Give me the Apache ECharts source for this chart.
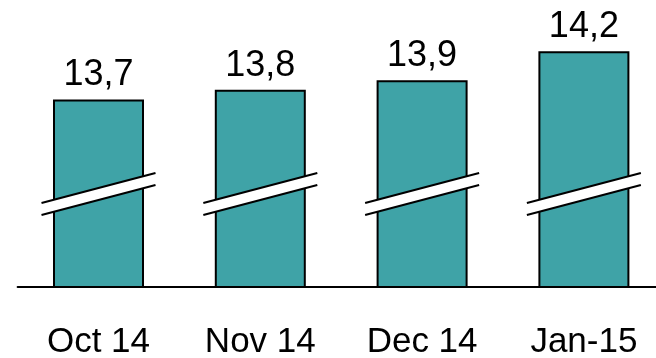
<!DOCTYPE html>
<html>
<head>
<meta charset="utf-8">
<style>
  html, body { margin: 0; padding: 0; background: #fff; }
  #chart { width: 656px; height: 358px; }
</style>
<script src="https://cdn.jsdelivr.net/npm/echarts@6/dist/echarts.min.js"></script>
</head>
<body>
<div id="chart"></div>
<script>
// Monthly values (truncated axis, shown with break marks)
const categories = ['Oct 14', 'Nov 14', 'Dec 14', 'Jan-15'];
const values = [13.7, 13.8, 13.9, 14.2];
// Value at which the break symbol is drawn across each bar
const breakValue = 12.72;

const FONT = "'Liberation Sans', Arial, sans-serif";
const fmt = v => String(v).replace('.', ',');

const chart = echarts.init(document.getElementById('chart'), null, { renderer: 'canvas' });

// Diagonal white band with two black edges, centred on the bar at breakValue
function renderBreak(params, api) {
  const c = api.coord([api.value(0), api.value(1)]);
  const cx = c[0], cy = c[1];
  const hw = 57, rise = 15, half = 6;
  return {
    type: 'group',
    children: [
      {
        type: 'polygon',
        shape: { points: [
          [cx - hw, cy + rise - half], [cx + hw, cy - rise - half],
          [cx + hw, cy - rise + half], [cx - hw, cy + rise + half]
        ] },
        style: { fill: '#ffffff' }
      },
      {
        type: 'line',
        shape: { x1: cx - hw, y1: cy + rise - half, x2: cx + hw, y2: cy - rise - half },
        style: { stroke: '#000', lineWidth: 2 }
      },
      {
        type: 'line',
        shape: { x1: cx - hw, y1: cy + rise + half, x2: cx + hw, y2: cy - rise + half },
        style: { stroke: '#000', lineWidth: 2 }
      }
    ]
  };
}

chart.setOption({
  animation: false,
  backgroundColor: '#ffffff',
  grid: { left: 17.6, width: 647.2, top: 30, height: 257, outerBoundsMode: 'none', containLabel: false },
  xAxis: {
    type: 'category',
    data: categories,
    axisLine: { show: true, lineStyle: { color: '#000', width: 2 } },
    axisTick: { show: false },
    axisLabel: { color: '#000', fontSize: 35, fontFamily: FONT, margin: 38 }
  },
  yAxis: {
    type: 'value',
    min: 11.755,
    max: 14.421,
    show: false,
    splitLine: { show: false }
  },
  series: [
    {
      type: 'bar',
      data: values,
      barWidth: 91,
      itemStyle: { color: '#3fa3a7', borderColor: '#000', borderWidth: 2 },
      label: {
        show: true,
        position: 'top',
        distance: 6,
        color: '#000',
        fontSize: 36,
        fontFamily: FONT,
        formatter: p => fmt(p.value)
      }
    },
    {
      type: 'custom',
      renderItem: renderBreak,
      data: categories.map((c, i) => [i, breakValue]),
      z: 5,
      silent: true
    }
  ]
});
</script>
</body>
</html>
